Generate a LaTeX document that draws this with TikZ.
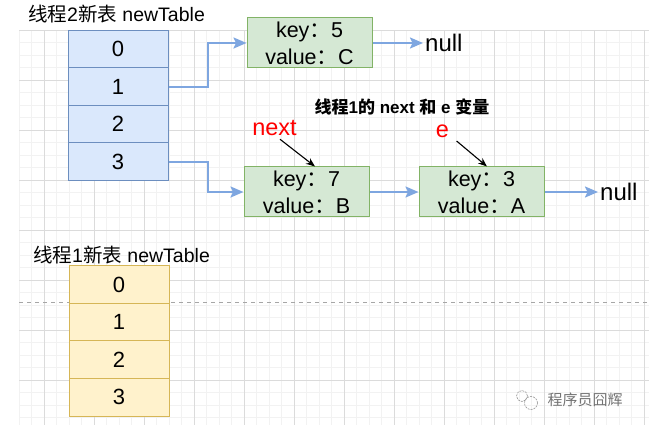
\documentclass[tikz,border=0pt]{standalone}
\usepackage{fontspec}
\setmainfont{Liberation Sans}
\newfontfamily\cjk{Noto Sans CJK SC}
\usetikzlibrary{positioning,arrows.meta}

\definecolor{cellblue}{HTML}{DAE8FC}
\definecolor{edgeblue}{HTML}{6C8EBF}
\definecolor{cellyellow}{HTML}{FFF2CC}
\definecolor{edgeyellow}{HTML}{D6B656}
\definecolor{entrygreen}{HTML}{D5E8D4}
\definecolor{edgegreen}{HTML}{82B366}
\definecolor{linkblue}{HTML}{7EA6E0}

\newcommand{\fwc}{{\cjk ：}}

\tikzset{
	bcell/.style={draw=edgeblue,fill=cellblue,line width=1pt,minimum width=100pt,minimum height=37.5pt,inner sep=0pt,font=\fontsize{22}{22}\selectfont},
	ycell/.style={draw=edgeyellow,fill=cellyellow,line width=1pt,minimum width=100pt,minimum height=37.5pt,inner sep=0pt,font=\fontsize{22}{22}\selectfont},
	entry/.style={draw=edgegreen,fill=entrygreen,line width=1pt,minimum width=125pt,minimum height=50pt,inner sep=0pt,align=center,font=\fontsize{21.5}{27}\selectfont},
	tbllbl/.style={anchor=west,inner sep=0pt,font=\fontsize{19.5}{19.5}\selectfont},
	nulltxt/.style={anchor=west,inner sep=2pt,font=\fontsize{24}{24}\selectfont},
	ptrlbl/.style={text=red,font=\fontsize{23.5}{23.5}\selectfont},
	link/.style={draw=linkblue,line width=2pt,-{Stealth[length=13pt,width=11pt,inset=2.5pt]}},
	ptr/.style={line width=1.1pt,-{Stealth[length=9pt,width=7pt]}}
}

\begin{document}
\begin{tikzpicture}[x=1pt,y=1pt,node distance=37.5pt,on grid]
	\fill[white] (0,0) rectangle (649,-425);
	\useasboundingbox (0,0) rectangle (649,-425);
	% grid paper
	\begin{scope}
		\clip (19,-30) rectangle (649,-425);
		\draw[black!5,line width=0.5pt,shift={(44,-30)}] (-25,0) grid[step=12.5pt] (605,-395);
		\draw[black!14,line width=0.6pt,shift={(44,-30)}] (-25,0) grid[step=50pt] (605,-395);
	\end{scope}
	\draw[black!35,line width=1pt,dash pattern=on 4pt off 4pt] (19,-303) -- (649,-303);
	
	% thread 2 table
	\node[tbllbl] (t2lbl) at (28,-14) {{\cjk 线程}2{\cjk 新表} newTable};
	\node[bcell] (b0) at (118,-49.25) {0};
	\node[bcell] (b1) [below=of b0] {1};
	\node[bcell] (b2) [below=of b1] {2};
	\node[bcell] (b3) [below=of b2] {3};
	
	% thread 1 table
	\node[tbllbl] (t1lbl) at (33,-255) {{\cjk 线程}1{\cjk 新表} newTable};
	\node[ycell] (y0) at (119,-284.75) {0};
	\node[ycell] (y1) [below=of y0] {1};
	\node[ycell] (y2) [below=of y1] {2};
	\node[ycell] (y3) [below=of y2] {3};
	
	% entries
	\node[entry] (n5) at (309.5,-43) {key\fwc 5\\value\fwc C};
	\node[entry] (n7) at (306.5,-192) {key\fwc 7\\value\fwc B};
	\node[entry] (n3) [right=175pt of n7] {key\fwc 3\\value\fwc A};
	\node[nulltxt] (null1) at (423,-43) {null};
	\node[nulltxt] (null2) at (598,-192) {null};
	
	\node[font=\fontsize{17}{17}\selectfont\bfseries] (title) at (402,-107) {{\cjk\bfseries 线程}1{\cjk\bfseries 的} next {\cjk\bfseries 和} e {\cjk\bfseries 变量}};
	\node[ptrlbl] (nxt) at (274.5,-128) {next};
	\node[ptrlbl] (ee) at (442.5,-131) {e};
	
	\path[link]
	(b1.east) -- ++(39,0) |- (n5.west);
	\path[link] (b3.east) -- ++(39,0) |- (n7.west);
	\path[link] (n5) -- (null1);
	\path[link] (n7) -- (n3);
	\path[link] (n3) -- (null2);
	
	\draw[ptr] ([xshift=5.5pt]nxt.south) -- ([xshift=8.5pt]n7.north);
	\draw[ptr] ([xshift=4pt]ee.south east) -- ([xshift=5.5pt]n3.north);
	
	% watermark
	\draw[black!40,line width=0.6pt,dash pattern=on 2pt off 1pt] (522,-396) circle (5.5) (531,-403) circle (6.5);
	\node[text=black!55,font=\fontsize{15}{15}\selectfont] (wm) at (585,-400) {\cjk 程序员囧辉};
\end{tikzpicture}
\end{document}
